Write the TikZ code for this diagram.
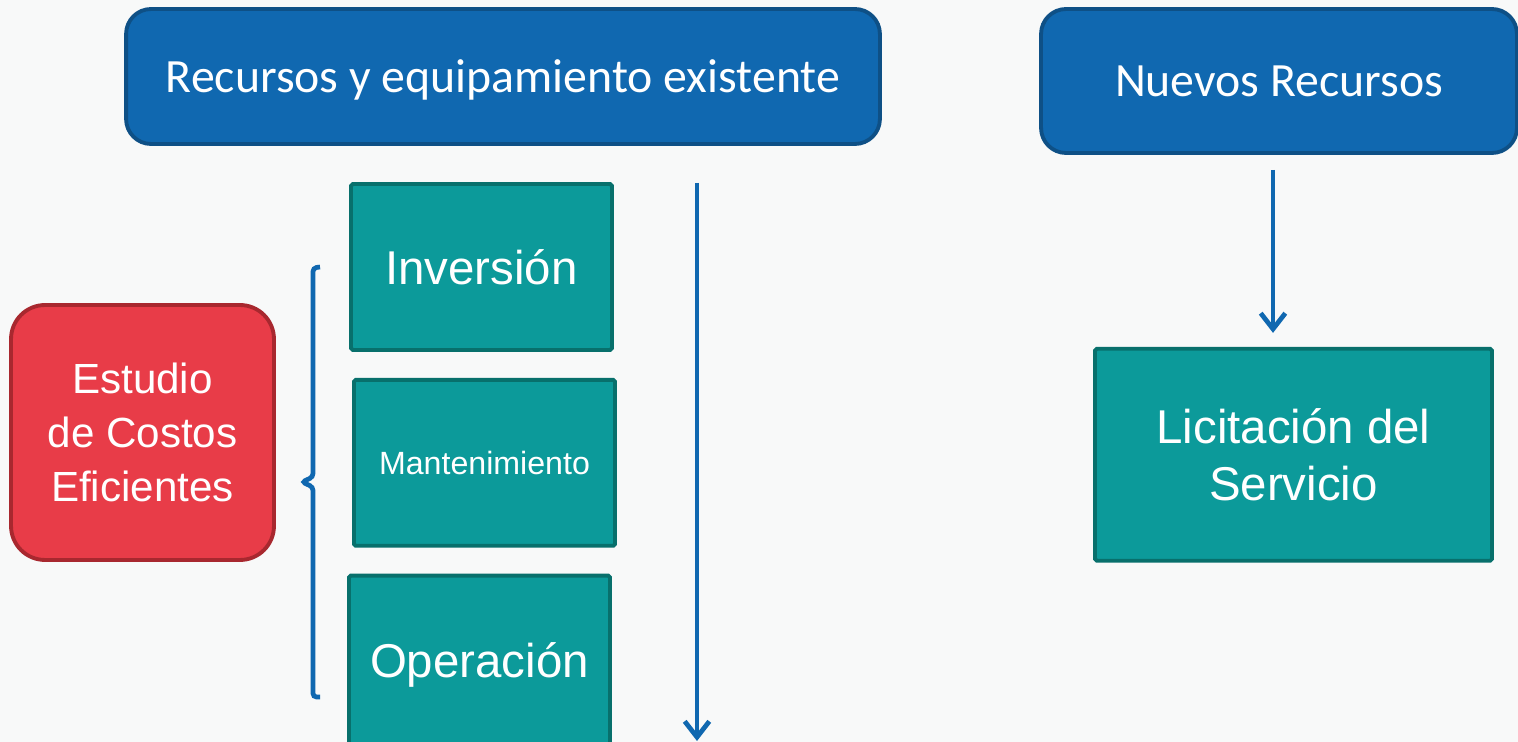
\documentclass[tikz,border=0pt]{standalone}
\usepackage{fontspec}
\setmainfont{Liberation Sans}
\newfontfamily\headfont{Carlito}
\usetikzlibrary{positioning,arrows.meta}

\definecolor{bgcol}{RGB}{248,249,249}
\definecolor{headfill}{RGB}{16,104,176}
\definecolor{headline}{RGB}{14,80,134}
\definecolor{tealfill}{RGB}{12,154,154}
\definecolor{tealline}{RGB}{8,112,108}
\definecolor{redfill}{RGB}{232,60,72}
\definecolor{redline}{RGB}{168,40,47}

\begin{document}
\begin{tikzpicture}[x=0.02cm, y=-0.02cm, node distance = 0.52cm,
	head/.style = { rectangle, rounded corners=0.5cm, draw=headline, fill=headfill,
	line width=2.2pt, text=white, text depth=0pt,
	font=\headfont\fontsize{27.2}{32}\selectfont },
	block/.style = { rectangle, rounded corners=1pt, draw=tealline, fill=tealfill,
	line width=2.2pt, text=white, align=center,
	minimum width=5.22cm, minimum height=3.32cm,
	font=\fontsize{27}{32.4}\selectfont },
	flow/.style = { draw=headfill, line width=2.7pt,
	-{Straight Barb[length=9pt,width=14pt]} } ]

  \fill [bgcol] (0,0) rectangle (1518,742);
  \useasboundingbox (0,0) rectangle (1518,742);

  \node [name=existing, head, minimum width=15.08cm, minimum height=2.7cm]
	at (503,76.5) {Recursos y equipamiento existente};
  \node [name=nuevos, head, minimum width=9.52cm, minimum height=2.88cm]
	at (1279,81) {Nuevos Recursos};

  \node [name=inversion, block] at (481.5,267) {Inversión};
  \node [name=mant, block, font=\fontsize{18.3}{22}\selectfont,
	below=of inversion, xshift=0.06cm] {Mantenimiento};
  \node [name=operacion, block, minimum height=3.56cm,
	below=of mant, xshift=-0.1cm] {Operación};

  \node [name=estudio, rectangle, rounded corners=0.68cm, draw=redline,
	fill=redfill, line width=2.2pt, text=white, align=center,
	minimum width=5.26cm, minimum height=5.1cm,
	font=\fontsize{24}{30.5}\selectfont] at (142.5,432.5)
	{Estudio\\ de Costos\\ Eficientes};

  \node [name=licitacion, block, minimum width=7.94cm, minimum height=4.24cm,
	below=3.84cm of nuevos, xshift=0.29cm] {Licitación del\\ Servicio};

  \draw [headfill, line width=2.7pt, rounded corners=2pt]
	(320,267) -- (313,268) -- (313,477) -- (302,482) -- (313,487)
	-- (313,697) -- (320,697);

  \coordinate (flowtop) at (697,183);
  \coordinate (flowend) at (697,741);
  \draw [flow] (flowtop) -- (flowend);
  \draw [flow, shorten <=0.3cm, shorten >=0.28cm] ([xshift=-0.12cm]nuevos.south)
	-- ([xshift=-0.12cm]nuevos.south |- licitacion.north);
\end{tikzpicture}
\end{document}
